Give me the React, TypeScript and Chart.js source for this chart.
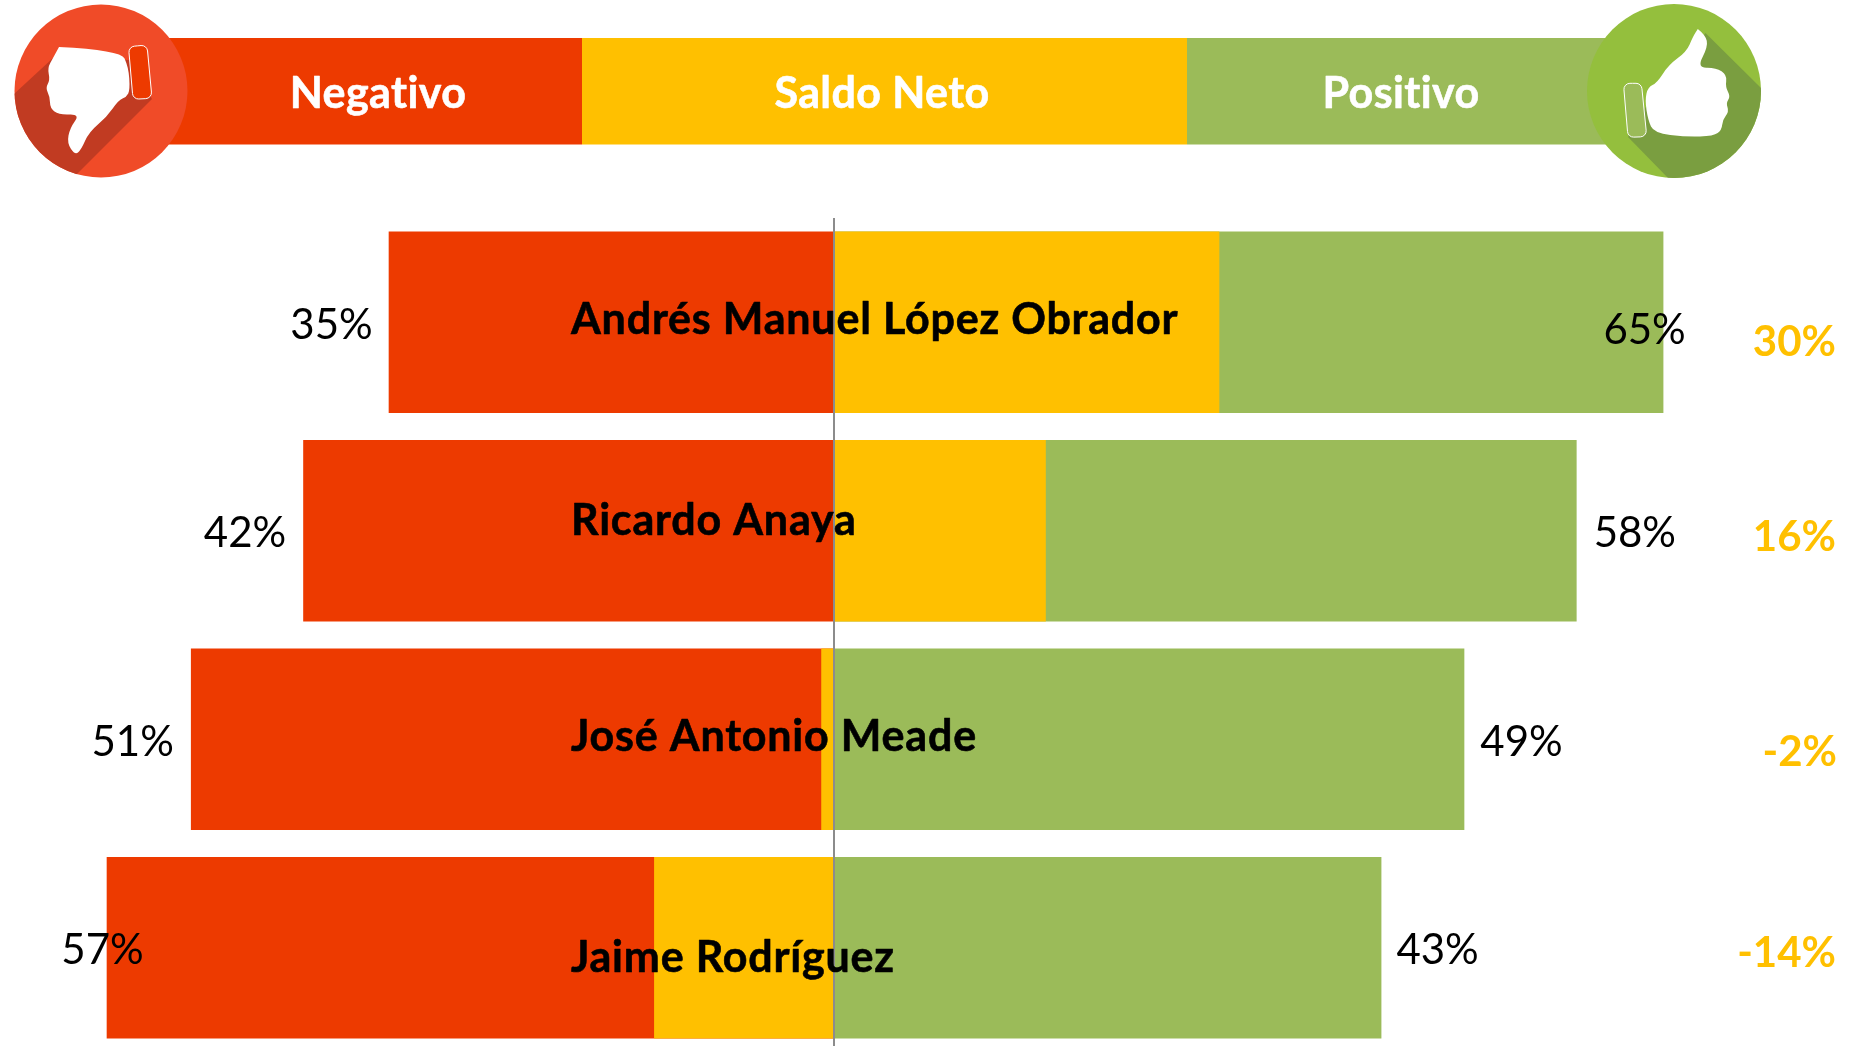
import React, { useEffect, useRef } from "react";
import { Chart, registerables } from "chart.js";

Chart.register(...registerables);

const candidates = ["Andrés Manuel López Obrador", "Ricardo Anaya", "José Antonio Meade", "Jaime Rodríguez"];
const negativoLabels = ["35%", "42%", "51%", "57%"];
const positivoLabels = ["65%", "58%", "49%", "43%"];
const netoLabels = ["30%", "16%", "-2%", "-14%"];
const negativo = [34.9, 41.6, 50.4, 57];
const positivo = [65, 58.2, 49.4, 42.9];
const neto = [30.2, 16.6, -1, -14.1];
const headers = ["Negativo", "Saldo Neto", "Positivo"];

const RED = "#ED3A00";
const YELLOW = "#FFC000";
const GREEN = "#9BBB59";
const FONT = "Lato";

// layout tweaks for the text (pixels relative to the bar ends / row centres)
const nameBaseline = [11.5, 4, 11.5, 24];
const negGap = [-16, -17, -17, 37];
const negBaseline = [16.5, 16.5, 17, 16.5];
const posGap = [-60, 17, 16, 15];
const posBaseline = [21.5, 16.5, 17, 16.5];
const netBaseline = [34, 20, 26.5, 19];
const netRight = [1836, 1836, 1837, 1836];

function poly(ctx: CanvasRenderingContext2D, pts: number[][]) {
  ctx.beginPath();
  ctx.moveTo(pts[0][0], pts[0][1]);
  for (let i = 1; i < pts.length; i++) {
    const p = pts[i];
    const q = pts[(i + 1) % pts.length];
    ctx.quadraticCurveTo(p[0], p[1], (p[0] + q[0]) / 2, (p[1] + q[1]) / 2);
  }
  ctx.closePath();
}

function straight(ctx: CanvasRenderingContext2D, pts: number[][]) {
  ctx.beginPath();
  pts.forEach((p, i) => (i ? ctx.lineTo(p[0], p[1]) : ctx.moveTo(p[0], p[1])));
  ctx.closePath();
}

function rounded(ctx: CanvasRenderingContext2D, pts: number[][], r: number) {
  const n = pts.length;
  ctx.beginPath();
  ctx.moveTo((pts[0][0] + pts[1][0]) / 2, (pts[0][1] + pts[1][1]) / 2);
  for (let i = 1; i <= n; i++) {
    const p = pts[i % n];
    const q = pts[(i + 1) % n];
    ctx.arcTo(p[0], p[1], q[0], q[1], r);
  }
  ctx.closePath();
}

function badge(
  ctx: CanvasRenderingContext2D,
  cx: number,
  cy: number,
  r: number,
  base: string,
  dark: string,
  band: string,
  shadow: number[][],
  hand: number[][],
  cuff: number[][]
) {
  ctx.save();
  ctx.beginPath();
  ctx.arc(cx, cy, r, 0, Math.PI * 2);
  ctx.fillStyle = base;
  ctx.fill();
  ctx.clip();
  straight(ctx, shadow);
  ctx.fillStyle = dark;
  ctx.fill();
  ctx.restore();
  poly(ctx, hand);
  ctx.fillStyle = "#fff";
  ctx.fill();
  rounded(ctx, cuff, 6);
  ctx.fillStyle = band;
  ctx.fill();
  ctx.strokeStyle = "#fff";
  ctx.lineWidth = 1;
  ctx.stroke();
}

function boldText(ctx: CanvasRenderingContext2D, s: string, x: number, y: number) {
  ctx.fillText(s, x, y);
  ctx.strokeStyle = ctx.fillStyle;
  ctx.lineWidth = 0.6;
  ctx.lineJoin = "round";
  ctx.strokeText(s, x, y);
}

const overlay = {
  id: "overlay",
  afterDraw(chart: any) {
    const { ctx, scales } = chart;
    const x = scales.x;
    const y = scales.y;
    ctx.save();

    // header band
    ctx.fillStyle = RED;
    ctx.fillRect(150, 38, 432, 106.5);
    ctx.fillStyle = YELLOW;
    ctx.fillRect(582, 38, 605, 106.5);
    ctx.fillStyle = GREEN;
    ctx.fillRect(1187, 38, 430, 106.5);
    ctx.fillStyle = "#fff";
    ctx.textAlign = "center";
    ctx.textBaseline = "alphabetic";
    ctx.font = `bold 43px ${FONT}`;
    ctx.letterSpacing = "0.4px";
    boldText(ctx, headers[0], 378, 107.5);
    boldText(ctx, headers[1], 882, 107.5);
    boldText(ctx, headers[2], 1401, 107.5);

    badge(
      ctx, 101, 91, 86.5, "#F04B28", "#C13B22", RED,
      [[53, 58], [13, 95], [13, 180], [75, 176], [152, 99], [130, 60]],
      [[59, 47], [120.6, 50], [128.5, 67], [130, 90], [126.5, 97], [118.6, 100], [106.8, 117], [89, 132], [81, 150], [75, 155], [67, 143], [70, 128], [80, 114], [59, 115], [50, 108], [50, 97], [45.5, 88], [50, 80], [47.5, 68], [53, 58]],
      [[128.5, 46.7], [147, 45], [152, 98.3], [133, 99.3]]
    );
    badge(
      ctx, 1674, 91, 87, "#94BF3D", "#7A9E40", GREEN,
      [[1705.5, 33], [1762, 89], [1762, 180], [1670, 180], [1628, 137], [1650, 100]],
      [[1697.8, 29], [1705.5, 35], [1708, 46.7], [1697, 68], [1716, 67.7], [1727, 75], [1725.4, 87], [1730.5, 96.7], [1726, 103], [1729, 111.7], [1722.6, 120], [1721.7, 130], [1713.6, 136], [1686.5, 137], [1654, 133], [1648, 120], [1645, 100], [1648, 87], [1657, 83], [1668.5, 65], [1686.5, 51.7], [1693, 36.7]],
      [[1623.4, 83.3], [1641.4, 83.3], [1646.8, 136.7], [1628, 137.3]]
    );

    // names and values
    candidates.forEach((name, i) => {
      const cy = y.getPixelForValue(i);
      ctx.fillStyle = "#000";
      ctx.textAlign = "left";
      ctx.font = `bold 43px ${FONT}`;
      ctx.letterSpacing = "0.8px";
      boldText(ctx, name, 571, cy + nameBaseline[i]);

      ctx.letterSpacing = "0px";
      ctx.font = `42px ${FONT}`;
      ctx.textAlign = "right";
      ctx.fillText(negativoLabels[i], x.getPixelForValue(-negativo[i]) + negGap[i], cy + negBaseline[i]);
      ctx.textAlign = "left";
      ctx.fillText(positivoLabels[i], x.getPixelForValue(positivo[i]) + posGap[i], cy + posBaseline[i]);

      ctx.fillStyle = YELLOW;
      ctx.textAlign = "right";
      ctx.font = `bold 42px ${FONT}`;
      ctx.fillText(netoLabels[i], netRight[i], cy + netBaseline[i]);
    });
    ctx.restore();
  },
};

export default function App() {
  const ref = useRef<HTMLCanvasElement>(null);
  useEffect(() => {
    const chart = new Chart(ref.current!, {
      type: "bar",
      data: {
        labels: candidates,
        datasets: [
          { label: "Negativo", data: negativo.map((v) => -v), backgroundColor: RED, order: 2 },
          { label: "Positivo", data: positivo, backgroundColor: GREEN, order: 2 },
          { label: "Saldo Neto", data: neto, backgroundColor: YELLOW, order: 1 },
        ],
      },
      options: {
        indexAxis: "y",
        responsive: false,
        animation: false,
        layout: { padding: { top: 218, bottom: 0, left: 0, right: 0 } },
        datasets: { bar: { grouped: false, barPercentage: 0.87, categoryPercentage: 1 } },
        plugins: { legend: { display: false }, title: { display: false }, tooltip: { enabled: false } },
        scales: {
          x: {
            type: "linear",
            min: -834 / 12.76,
            max: (1857 - 834) / 12.76,
            afterBuildTicks: (s: any) => {
              s.ticks = [{ value: 0 }];
            },
            ticks: { display: false },
            border: { display: false },
            grid: { color: "#8C8C8C", lineWidth: 2, z: 1, drawTicks: false },
          },
          y: {
            type: "category",
            display: false,
          },
        },
      } as any,
      plugins: [overlay],
    });
    return () => chart.destroy();
  }, []);
  return (
    <div style={{ position: "fixed", left: 0, top: 0, width: 1857, height: 1046, overflow: "hidden", background: "#fff" }}>
      <canvas ref={ref} width={1857} height={1052} style={{ display: "block" }} />
    </div>
  );
}
